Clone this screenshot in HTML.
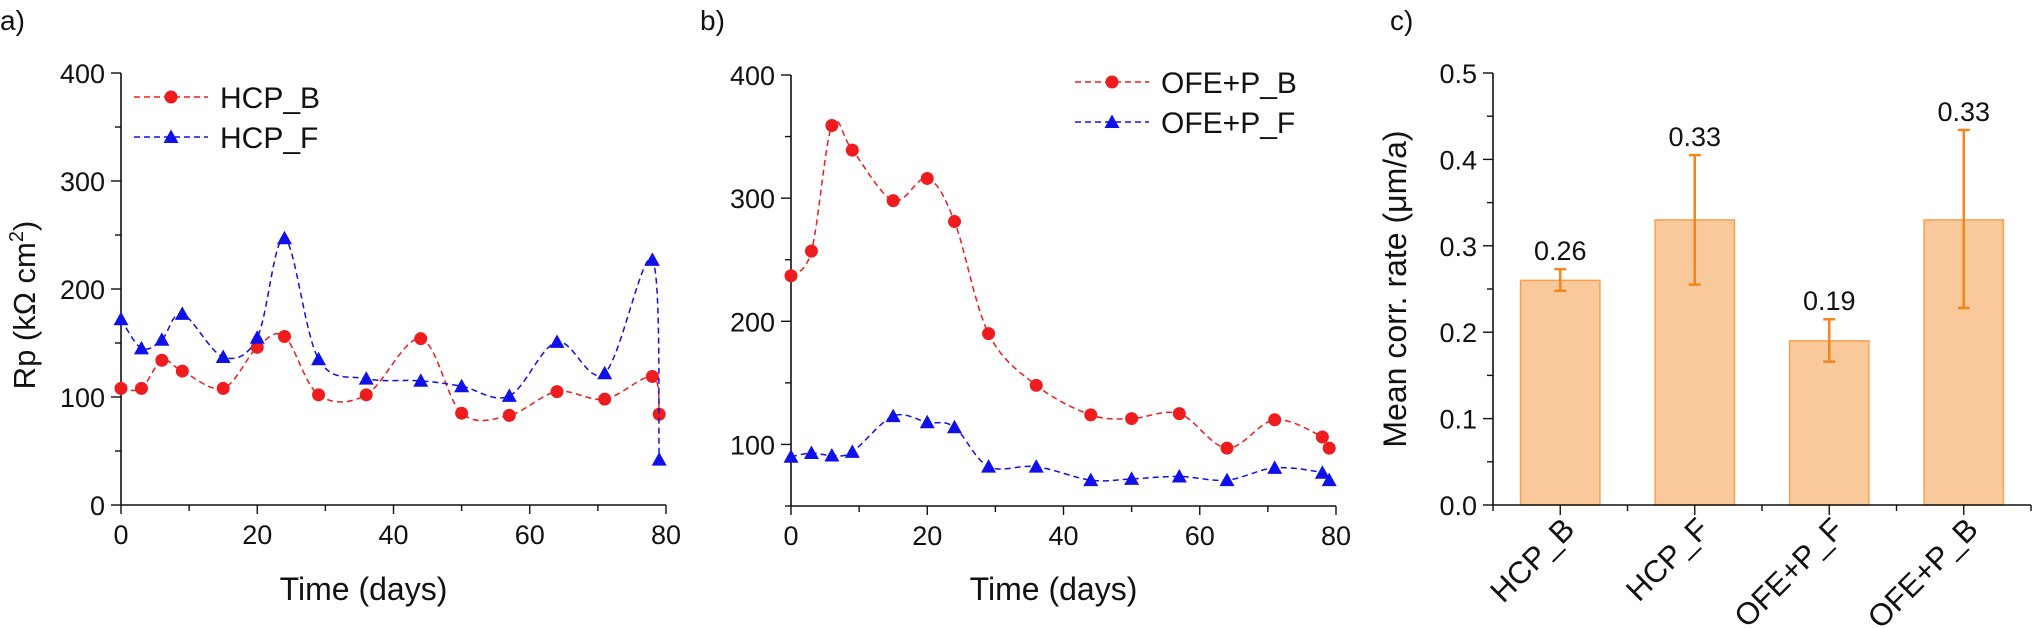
<!DOCTYPE html>
<html><head><meta charset="utf-8"><style>
html,body{margin:0;padding:0;background:#fff;}
svg{display:block;font-family:"Liberation Sans",Arial,sans-serif;}
</style></head><body>
<svg id="fig" width="2034" height="628" viewBox="0 0 2034 628" xmlns="http://www.w3.org/2000/svg"></svg>
<script>
// ---- Panel a data ----
const daysA = [0,3,6,9,15,20,24,29,36,44,50,57,64,71,78,79];
const hcpB = [108,108,134,124,108,146,156,102,102,154,85,83,105,98,119,84];
const hcpF = [172,145,153,177,137,155,247,135,117,115,110,101,151,122,227,42];
const ticksA = [0,100,200,300,400];
const xTicks = [0,20,40,60,80];
// ---- Panel b data ----
const daysB = [0,3,6,9,15,20,24,29,36,44,50,57,64,71,78,79];
const ofeB = [237,257,359,339,298,316,281,190,148,124,121,125,97,120,106,97];
const ofeF = [90,93,91,94,123,118,114,82,82,71,72,74,71,81,77,71];
const ticksB = [100,200,300,400];
// ---- Panel c data ----
const cats = ["HCP_B","HCP_F","OFE+P_F","OFE+P_B"];
const means = [0.26,0.33,0.19,0.33];
const errLo = [0.248,0.255,0.166,0.228];
const errHi = [0.273,0.405,0.215,0.434];
const valLabels = ["0.26","0.33","0.19","0.33"];
const ticksC = ["0.0","0.1","0.2","0.3","0.4","0.5"];

const NS="http://www.w3.org/2000/svg";
const svg=document.getElementById('fig');
function el(tag,attrs,parent){const e=document.createElementNS(NS,tag);for(const k in attrs)e.setAttribute(k,attrs[k]);(parent||svg).appendChild(e);return e;}
function txt(s,attrs,parent){const t=el('text',attrs,parent);t.textContent=s;return t;}
function spline(pts){
  let d=`M${pts[0][0]},${pts[0][1]}`;
  for(let i=0;i<pts.length-1;i++){
    const p0=pts[i-1]||pts[i],p1=pts[i],p2=pts[i+1],p3=pts[i+2]||pts[i+1];
    const c1=[p1[0]+(p2[0]-p0[0])/6,p1[1]+(p2[1]-p0[1])/6];
    const c2=[p2[0]-(p3[0]-p1[0])/6,p2[1]-(p3[1]-p1[1])/6];
    d+=` C${c1[0]},${c1[1]} ${c2[0]},${c2[1]} ${p2[0]},${p2[1]}`;
  }
  return d;
}
function marker(g,kind,x,y,color){
  let m;
  if(kind==='circle'){m=el('circle',{cx:x,cy:y,r:6.5,fill:color},g);}
  else{m=el('polygon',{points:`${x},${y-7.5} ${x+7.5},${y+6} ${x-7.5},${y+6}`,fill:color},g);}
  return m;
}
function linePanel(id,x0,x1,y0,y1,ymin,ymax,yt,minorStep,days,series,legendX,legendY,labelLetter,letterX){
  const g=el('g',{});  
  const sx=v=>x0+(v-0)/(80-0)*(x1-x0);
  const sy=v=>y0-(v-ymin)/(ymax-ymin)*(y0-y1);
  txt(labelLetter,{x:letterX,y:30,'font-size':28,fill:'#111'},g);
  const ax=el('path',{d:`M${x0},${y1} V${y0} H${x1}`,stroke:'#111','stroke-width':1.6,fill:'none'},g);
   
  for(let v=ymin;v<=ymax+0.01;v+=minorStep){
    const major=yt.includes(v);
    el('line',{x1:x0-(major?10:6),x2:x0,y1:sy(v),y2:sy(v),stroke:'#111','stroke-width':1.4},g);
  }
  yt.forEach(v=>{const t=txt(String(v),{x:x0-16,y:sy(v)+10,'font-size':27,'text-anchor':'end',fill:'#111'},g);
     });
  for(let v=0;v<=80;v+=10){el('line',{x1:sx(v),x2:sx(v),y1:y0,y2:y0+(v%20===0?9:6),stroke:'#111','stroke-width':1.4},g);}
  xTicks.forEach(v=>{const t=txt(String(v),{x:sx(v),y:y0+39,'font-size':27,'text-anchor':'middle',fill:'#111'},g);
     });
  const xt=txt('Time (days)',{x:(x0+x1)/2+(id==='a'?-30:-10),y:600,'font-size':32,'text-anchor':'middle',fill:'#111'},g);
   
  series.forEach((s,si)=>{
    const sg=el('g',{},g);  
    const pts=days.map((d,i)=>[sx(d),sy(s.vals[i])]);
    el('path',{d:spline(pts),stroke:s.color,'stroke-width':1.5,'stroke-dasharray':'6,4',fill:'none'},sg);
    pts.forEach(p=>{const m=marker(sg,s.kind,p[0],p[1],s.color);  });
    const ly=legendY+si*40;
    const lg=el('g',{},g);  
    el('line',{x1:legendX,x2:legendX+74,y1:ly,y2:ly,stroke:s.color,'stroke-width':1.5,'stroke-dasharray':'6,4'},lg);
    marker(lg,s.kind,legendX+37,ly,s.color);
    txt(s.name,{x:legendX+86,y:ly+11,'font-size':30,fill:'#111'},lg);
  });
  return g;
}
linePanel('a',121,666,505,73,0,400,ticksA,50,daysA,
  [{name:'HCP_B',vals:hcpB,color:'#ee1c1c',kind:'circle'},{name:'HCP_F',vals:hcpF,color:'#1010e8',kind:'tri'}],134,97,'a)',0);
const yA=el('text',{transform:'translate(35,305) rotate(-90)','font-size':31,'text-anchor':'middle',fill:'#111'});
yA.innerHTML='Rp (kΩ cm<tspan dy="-12" font-size="20">2</tspan><tspan dy="12">)</tspan>';
 
linePanel('b',791,1336,506,75,50,400,ticksB,50,daysB,
  [{name:'OFE+P_B',vals:ofeB,color:'#ee1c1c',kind:'circle'},{name:'OFE+P_F',vals:ofeF,color:'#1010e8',kind:'tri'}],1075,82,'b)',700);

// ---- Panel c ----
(function(){
  const x0=1493,x1=2031,y0=505,y1=73;
  const g=el('g',{});  
  const step=(x1-x0)/cats.length;
  const sx=i=>x0+step*(i+0.5);
  const sy=v=>y0-v/0.5*(y0-y1);
  txt('c)',{x:1390,y:30,'font-size':28,fill:'#111'},g);
  const yt=el('text',{transform:'translate(1406,289) rotate(-90)','font-size':32,'text-anchor':'middle',fill:'#111'},g);
  yt.textContent='Mean corr. rate (μm/a)';
   
  cats.forEach((c,i)=>{
    const bw=step*0.59;
    const b=el('rect',{x:sx(i)-bw/2,y:sy(means[i]),width:bw,height:y0-sy(means[i]),fill:'#f9c89b',stroke:'#f7a24f','stroke-width':1.5},g);
     
    const e=el('path',{d:`M${sx(i)},${sy(errHi[i])} V${sy(errLo[i])} M${sx(i)-6},${sy(errHi[i])} H${sx(i)+6} M${sx(i)-6},${sy(errLo[i])} H${sx(i)+6}`,stroke:'#f2861c','stroke-width':2.5,fill:'none'},g);
     
    const vl=txt(valLabels[i],{x:sx(i),y:sy(errHi[i])-9,'font-size':27,'text-anchor':'middle',fill:'#111'},g);
     
    const cl=txt(c,{transform:`translate(${sx(i)+16},${y0+26}) rotate(-45)`,'font-size':31,'text-anchor':'end',fill:'#111'},g);
     
  });
  const ax=el('path',{d:`M${x0},${y1} V${y0} H${x1}`,stroke:'#111','stroke-width':1.6,fill:'none'},g);
   
  for(let k=0;k<=10;k++){const v=k*0.05;const major=k%2===0;
    el('line',{x1:x0-(major?10:6),x2:x0,y1:sy(v),y2:sy(v),stroke:'#111','stroke-width':1.4},g);}
  ticksC.forEach(s=>{const t=txt(s,{x:x0-16,y:sy(parseFloat(s))+10,'font-size':27,'text-anchor':'end',fill:'#111'},g);
     });
  for(let k=0;k<=cats.length;k++){el('line',{x1:x0+step*k,x2:x0+step*k,y1:y0,y2:y0+6,stroke:'#111','stroke-width':1.4},g);}
  cats.forEach((c,i)=>el('line',{x1:sx(i),x2:sx(i),y1:y0,y2:y0+10,stroke:'#111','stroke-width':1.4},g));
})();
</script>
</body></html>
